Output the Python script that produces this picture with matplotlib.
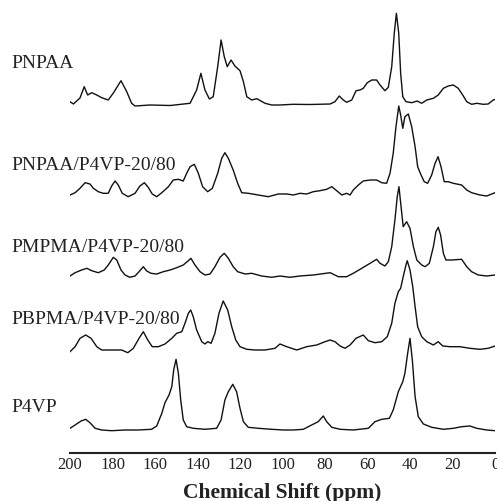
import numpy as np
import matplotlib
matplotlib.use("Agg")
import matplotlib.pyplot as plt

plt.rcParams['font.family'] = ['Liberation Serif', 'DejaVu Serif']

# sample names, bottom to top
names = ["P4VP", "PBPMA/P4VP-20/80", "PMPMA/P4VP-20/80",
         "PNPAA/P4VP-20/80", "PNPAA"]

# vertical offsets of each baseline (same units as intensity)
offsets = [23, 103, 178, 258, 349]

# traced spectra: chemical shift (ppm) and intensity above baseline
p4vp_ppm = [200, 197.6, 194.8, 192.6, 190.6, 188.2, 185.1, 180.4, 174.1, 167.9,
            161.6, 159.2, 156.8, 155.3, 153.4, 152.1, 151.2, 150.1, 149.0, 147.9,
            146.7, 145.1, 142.0, 136.5, 131.0, 128.9, 127.1, 125.5, 123.4, 121.6,
            120.0, 118.4, 116.1, 111.4, 105.1, 99.6, 94.9, 90.2, 86.3, 83.2,
            80.8, 79.2, 76.8, 72.9, 66.7, 59.6, 56.5, 53.3, 49.7, 47.9,
            45.5, 43.4, 42.4, 41.1, 40.0, 38.9, 37.6, 36.1, 33.7, 29.8,
            24.3, 19.6, 15.7, 11.8, 8.6, 3.9, 0]
p4vp_int = [1.7, 5, 9, 10.7, 7.3, 1.7, 0, -0.7, 0, 0,
            0.7, 4, 16.7, 27.3, 35, 43.3, 60, 70.7, 56.7, 30,
            10, 3.3, 1.7, 0.7, 1.7, 10, 30, 38.3, 45.7, 38.3,
            21.7, 8.3, 2.7, 1.7, 0.7, 0, 0, 0.7, 5, 8.3,
            14, 8.3, 2.7, 0.7, 0, 1.7, 8.3, 10.7, 11.7, 20,
            38.3, 48.3, 56.7, 76.7, 91.7, 70, 33.3, 13.3, 6, 2.7,
            0.7, 1.7, 3.3, 4, 1.7, 0, -0.7]

pbpma_ppm = [200, 197.6, 195.3, 192.6, 190.1, 187.4, 185.1, 180.4, 175.7, 172.8,
             170.2, 167.5, 165.5, 163.4, 161.3, 158.4, 155.3, 152.1, 149.8, 147.4,
             145.9, 144.3, 143.2, 142.0, 140.4, 138.0, 136.5, 135.2, 133.6, 131.8,
             129.9, 127.9, 125.8, 123.9, 122.0, 120.0, 116.8, 112.9, 108.2, 103.5,
             101.2, 98.0, 93.3, 88.6, 83.9, 80.0, 77.6, 75.3, 72.9, 70.6,
             68.2, 65.4, 62.0, 59.6, 56.5, 53.3, 50.7, 48.6, 47.1, 45.5,
             44.4, 43.2, 41.9, 41.3, 40.0, 38.7, 37.6, 36.4, 34.5, 32.1,
             29.0, 26.7, 24.6, 21.2, 16.5, 11.8, 7.1, 3.2, 0]
pbpma_int = [-1.7, 3.3, 11.7, 15, 11.7, 3.3, 0, 0, 0, -2.7,
             1.7, 11.7, 18.3, 10, 3.3, 3.3, 6, 11.7, 16.7, 18.3,
             26.7, 36.7, 40, 33.3, 20, 8.3, 6, 8.3, 6.7, 16.7,
             36.7, 49, 40, 23.3, 10, 3.3, 0.7, 0, 0, 1.7,
             6, 3.3, 0, 3.3, 5, 8.3, 10, 8.3, 4, 1.7,
             5, 11.7, 15, 9.3, 7.3, 8.3, 13.3, 26.7, 46.7, 58.3,
             61.7, 73.3, 85, 89.3, 80, 63.3, 43.3, 23.3, 13.3, 8.3,
             5, 8.3, 4, 3.3, 3.3, 1.7, 0.7, 1.7, 4]

pmpma_ppm = [200, 197.6, 194.5, 192.1, 189.8, 186.7, 183.9, 182.0, 179.6, 178.0,
             176.0, 174.1, 171.8, 169.4, 167.5, 165.5, 163.9, 161.9, 159.2, 156.1,
             152.9, 149.8, 146.7, 144.3, 143.1, 141.2, 138.8, 136.5, 134.1, 131.8,
             129.4, 127.4, 125.5, 123.2, 121.1, 117.6, 114.5, 109.8, 105.1, 101.2,
             96.5, 91.8, 85.5, 77.6, 73.7, 69.8, 66.7, 62.7, 58.8, 55.7,
             54.1, 51.8, 50.2, 48.6, 47.1, 46.0, 45.2, 44.2, 43.2, 41.6,
             40.0, 38.4, 36.8, 34.5, 32.9, 30.9, 29.0, 27.8, 26.7, 25.6,
             24.3, 23.1, 20.4, 15.7, 13.3, 11.0, 7.9, 3.9, 0]
pmpma_int = [-1, 2.3, 5, 6.7, 4.3, 2.3, 5, 10, 17.7, 15,
             5, 0, -2.3, -1, 3.3, 8.3, 4, 1.7, 1, 3.3,
             5, 7.3, 10, 14.3, 16.7, 10, 3.3, 0, 1, 8.3,
             17.7, 21.7, 16.7, 8.3, 3.3, 1, 1.7, -1, -2.3, -1,
             -2.3, -1, 0, 2.3, -1.7, -1.7, 1.7, 6.7, 11.7, 15.7,
             11.7, 9, 13.3, 28.3, 55, 78.3, 88.3, 68.3, 48.3, 53.3,
             46.7, 28.3, 15, 10, 8.3, 11.7, 28.3, 43.3, 47.7, 40,
             21.7, 15, 15, 15.7, 8.3, 3.3, 0, -1, 0]

pnpaa_blend_ppm = [200, 197.6, 195.3, 192.9, 190.6, 189.0, 186.7, 184.3, 182.0, 180.4,
                   178.8, 177.3, 175.4, 172.6, 169.4, 167.1, 165.0, 163.2, 161.3, 159.2,
                   156.8, 153.7, 151.4, 149.0, 146.7, 145.1, 143.5, 141.5, 139.6, 137.6,
                   135.2, 133.0, 130.5, 128.6, 127.1, 125.5, 123.2, 121.1, 119.2, 116.1,
                   111.4, 106.7, 102.0, 98.0, 94.9, 91.8, 88.6, 85.5, 82.4, 79.2,
                   76.8, 74.5, 72.1, 69.8, 68.2, 66.7, 64.3, 62.0, 58.8, 55.7,
                   53.3, 51.0, 49.4, 47.9, 46.6, 45.3, 44.4, 43.4, 42.4, 40.8,
                   39.2, 37.6, 36.4, 34.8, 33.3, 31.7, 29.8, 28.2, 26.8, 25.4,
                   23.9, 22.0, 19.6, 15.7, 13.3, 11.0, 7.1, 3.9, 0]
pnpaa_blend_int = [0, 2.3, 6.7, 12.3, 11, 6.7, 3.3, 1.7, 1.7, 9,
                   14, 10, 1.7, -1.7, 1.7, 9, 12.3, 7.7, 1, -1.7,
                   2.3, 8.3, 15, 15.7, 14, 21.7, 28.3, 30.7, 21.7, 8.3,
                   3.3, 6.7, 21.7, 36.7, 42.3, 36.7, 25, 11.7, 2.3, 1.7,
                   0, -1.7, 1, 1, 0, 1.7, 1, 3.3, 4.3, 5.7,
                   8.3, 4.3, 0, 1.7, 0, 5, 10, 14, 15, 15,
                   12.3, 11.7, 21.7, 41.7, 68.3, 89, 80, 66.7, 78.3, 81,
                   68.3, 48.3, 28.3, 20, 13.3, 11.7, 20, 31.7, 38.3, 28.3,
                   13.3, 13.3, 11.7, 10, 5, 2.3, 0, -1, 2.3]

pnpaa_ppm = [200, 198.4, 195.3, 193.3, 191.7, 189.8, 187.4, 185.1, 182.0, 179.6,
             176.0, 173.3, 171.0, 169.4, 162.4, 152.9, 143.5, 140.4, 138.4, 136.5,
             134.4, 132.6, 130.5, 128.9, 127.4, 126.0, 124.2, 122.4, 120.0, 118.4,
             116.8, 114.5, 112.1, 108.2, 105.1, 101.2, 95.1, 87.1, 77.6, 75.3,
             73.3, 71.4, 69.8, 67.4, 65.4, 63.5, 62.0, 60.1, 58.0, 55.7,
             54.1, 51.8, 50.2, 48.6, 47.4, 46.4, 45.3, 44.4, 43.4, 41.9,
             39.2, 36.6, 34.5, 32.1, 29.0, 26.7, 24.3, 22.0, 19.6, 17.3,
             15.2, 13.3, 11.0, 8.6, 5.5, 3.2, 0.8, 0]
pnpaa_int = [2.3, 0, 6, 17.3, 9, 11.3, 9, 6.3, 4, 11,
             23.3, 12.3, 0.7, -2, -1, -1.5, 0.7, 14, 30.7, 14,
             5, 7.3, 37.3, 64, 47.3, 37.3, 44, 38, 33.3, 22.3,
             7.3, 4, 5.3, 0.7, -1, -1, -0.3, -0.5, 0, 2.3,
             8, 4, 1.7, 4, 13.3, 14, 15.7, 21.3, 24, 24,
             19, 13.3, 16.7, 37.3, 70.7, 90.7, 70.7, 30.7, 7.3, 2.3,
             1.3, 3, 0.7, 4, 5.7, 9, 15.7, 18, 19, 15.7,
             9, 2.3, -0.3, 0.7, -0.3, 0, 4, 4.5]

spectra = [(p4vp_ppm, p4vp_int), (pbpma_ppm, pbpma_int), (pmpma_ppm, pmpma_int),
           (pnpaa_blend_ppm, pnpaa_blend_int), (pnpaa_ppm, pnpaa_int)]

xticks = [200, 180, 160, 140, 120, 100, 80, 60, 40, 20, 0]

# label baselines in pixels from top of image
label_base_px = [411.5, 324, 252.5, 170, 68.3]

W, H = 497, 501
fig = plt.figure(figsize=(W / 100, H / 100), dpi=100)
ax = fig.add_axes([70 / W, (H - 453) / H, 425 / W, 453 / H])

for (ppm, inten), off in zip(spectra, offsets):
    ax.plot(ppm, np.array(inten) + off, color='#111111', lw=1.0)

ax.set_xlim(200, 0)
ax.set_ylim(0, 453)
ax.set_xticks(xticks)
ax.set_xticklabels([str(t) for t in xticks], fontsize=12, color='#222222')
ax.tick_params(axis='x', length=0, pad=3)
ax.set_yticks([])
for s in ['top', 'right', 'left']:
    ax.spines[s].set_visible(False)
ax.spines['bottom'].set_linewidth(1.5)
ax.spines['bottom'].set_color('#222222')
ax.patch.set_alpha(0)

for name, ypx in zip(names, label_base_px):
    fig.text(11 / W, (H - ypx) / H, name, fontsize=14, ha='left',
             va='baseline', color='#222222')

fig.text((70 + 212.5) / W, (H - 498) / H, "Chemical Shift (ppm)",
         fontsize=15.5, fontweight='bold', ha='center', va='baseline',
         color='#222222')

fig.savefig("out.png", dpi=100)
